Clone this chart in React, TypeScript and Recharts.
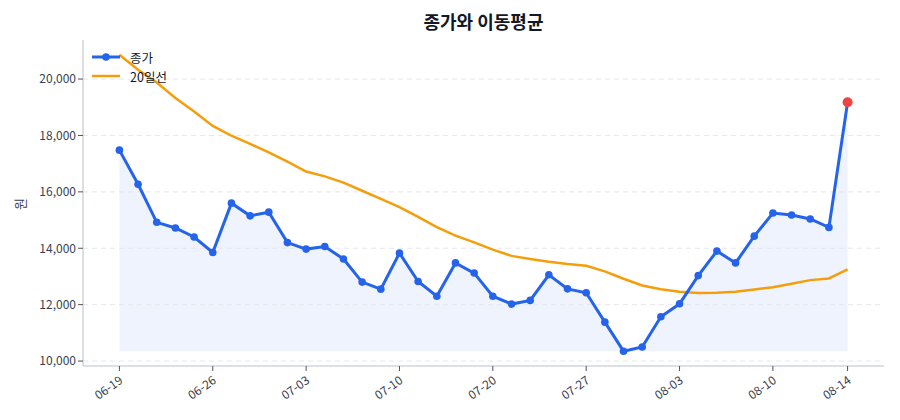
import { Area, ComposedChart, Line, ReferenceDot, ReferenceLine, XAxis, YAxis } from "recharts";

const dates = [
  "06-19", "06-20", "06-21", "06-22", "06-23", "06-26", "06-27", "06-28", "06-29", "06-30",
  "07-03", "07-04", "07-05", "07-06", "07-07", "07-10", "07-11", "07-12", "07-13", "07-14",
  "07-20", "07-21", "07-24", "07-25", "07-26", "07-27", "07-28", "07-31", "08-01", "08-02",
  "08-03", "08-04", "08-07", "08-08", "08-09", "08-10", "08-11", "08-12", "08-13", "08-14",
];

const closes = [
  17480, 16270, 14920, 14720, 14400, 13850, 15600, 15150, 15280, 14200,
  13970, 14060, 13620, 12800, 12550, 13830, 12820, 12300, 13480, 13120,
  12300, 12020, 12150, 13060, 12560, 12420, 11380, 10350, 10500, 11570,
  12030, 13030, 13900, 13480, 14430, 15250, 15180, 15040, 14740, 19180,
];

const ma20 = [
  20860, 20330, 19880, 19330, 18850, 18340, 17990, 17700, 17400, 17070,
  16720, 16550, 16330, 16040, 15750, 15460, 15110, 14750, 14450, 14210,
  13950, 13730, 13620, 13520, 13440, 13380, 13180, 12920, 12680, 12550,
  12460, 12410, 12420, 12460, 12540, 12620, 12740, 12870, 12930, 13250,
];

const xTicks = [0, 5, 10, 15, 20, 25, 30, 35, 39];
const yTicks = [10000, 12000, 14000, 16000, 18000, 20000];

const rows = dates.map((d, i) => ({ i, date: d, close: closes[i], ma: ma20[i] }));

const lo = Math.min(...closes, ...ma20);
const hi = Math.max(...closes, ...ma20);
const pad = (hi - lo) * 0.05;
const last = rows.length - 1;

const FONT = '"Noto Sans CJK KR", "Noto Sans", sans-serif';
const BLUE = "#2563eb";
const ORANGE = "#f59e0b";

function DateTick({ x, y, payload }: any) {
  return (
    <g transform={`translate(${x + 2},${y + 6})`}>
      <text x={0} y={0} dy={4} textAnchor="end" transform="rotate(-35)" fontSize={12} fill="#374151" fontFamily={FONT}>
        {dates[payload.value]}
      </text>
    </g>
  );
}

export default function App() {
  return (
    <div style={{ position: "absolute", left: 0, top: 0, width: 900, height: 420, background: "#fff", fontFamily: FONT }}>
      <div style={{ position: "absolute", left: 83, width: 801, top: 8, textAlign: "center", fontSize: 18, fontWeight: 700, color: "#111827" }}>
        종가와 이동평균
      </div>
      <svg width={30} height={420} style={{ position: "absolute", left: 0, top: 0 }}>
        <text x={19} y={204} transform="rotate(-90 19 204)" textAnchor="middle" dominantBaseline="central" fontSize={13} fill="#374151" fontFamily={FONT}>
          원
        </text>
      </svg>
      <ComposedChart width={900} height={420} data={rows} margin={{ top: 40, right: 16, bottom: 0, left: 0 }}>
        <XAxis
          dataKey="i"
          type="number"
          domain={[-1.95, last + 1.95]}
          ticks={xTicks}
          height={54}
          tick={<DateTick />}
          tickSize={5}
          axisLine={{ stroke: "#d1d5db", strokeWidth: 1.5 }}
          tickLine={{ stroke: "#4b5563" }}
        />
        <YAxis
          type="number"
          domain={[lo - pad, hi + pad]}
          ticks={yTicks}
          width={83}
          tickSize={5}
          tickFormatter={(v: number) => v.toLocaleString("en-US")}
          tick={{ fontSize: 12, fill: "#374151", fontFamily: FONT }}
          axisLine={{ stroke: "#d1d5db", strokeWidth: 1.5 }}
          tickLine={{ stroke: "#4b5563" }}
        />
        {yTicks.map((t) => (
          <ReferenceLine key={t} y={t} stroke="#e5e7eb" strokeDasharray="5 4" />
        ))}
        <Area
          dataKey="close"
          type="linear"
          baseValue={Math.min(...closes)}
          stroke="none"
          fill={BLUE}
          fillOpacity={0.08}
          isAnimationActive={false}
        />
        <Line dataKey="ma" type="linear" stroke={ORANGE} strokeWidth={2.5} dot={false} isAnimationActive={false} />
        <Line
          dataKey="close"
          type="linear"
          stroke={BLUE}
          strokeWidth={3}
          dot={{ r: 3.8, fill: BLUE, stroke: BLUE, strokeWidth: 0 }}
          isAnimationActive={false}
        />
        <ReferenceDot x={last} y={closes[last]} r={5} fill="#ef4444" stroke="none" />
      </ComposedChart>
      <svg width={120} height={50} style={{ position: "absolute", left: 88, top: 44 }}>
        <line x1={4} y1={13} x2={32} y2={13} stroke={BLUE} strokeWidth={3} />
        <circle cx={18} cy={13} r={3.8} fill={BLUE} />
        <text x={42} y={13} dominantBaseline="central" fontSize={12.5} fill="#111827" fontFamily={FONT}>종가</text>
        <line x1={4} y1={32} x2={32} y2={32} stroke={ORANGE} strokeWidth={2.5} />
        <text x={42} y={32} dominantBaseline="central" fontSize={12.5} fill="#111827" fontFamily={FONT}>20일선</text>
      </svg>
    </div>
  );
}
